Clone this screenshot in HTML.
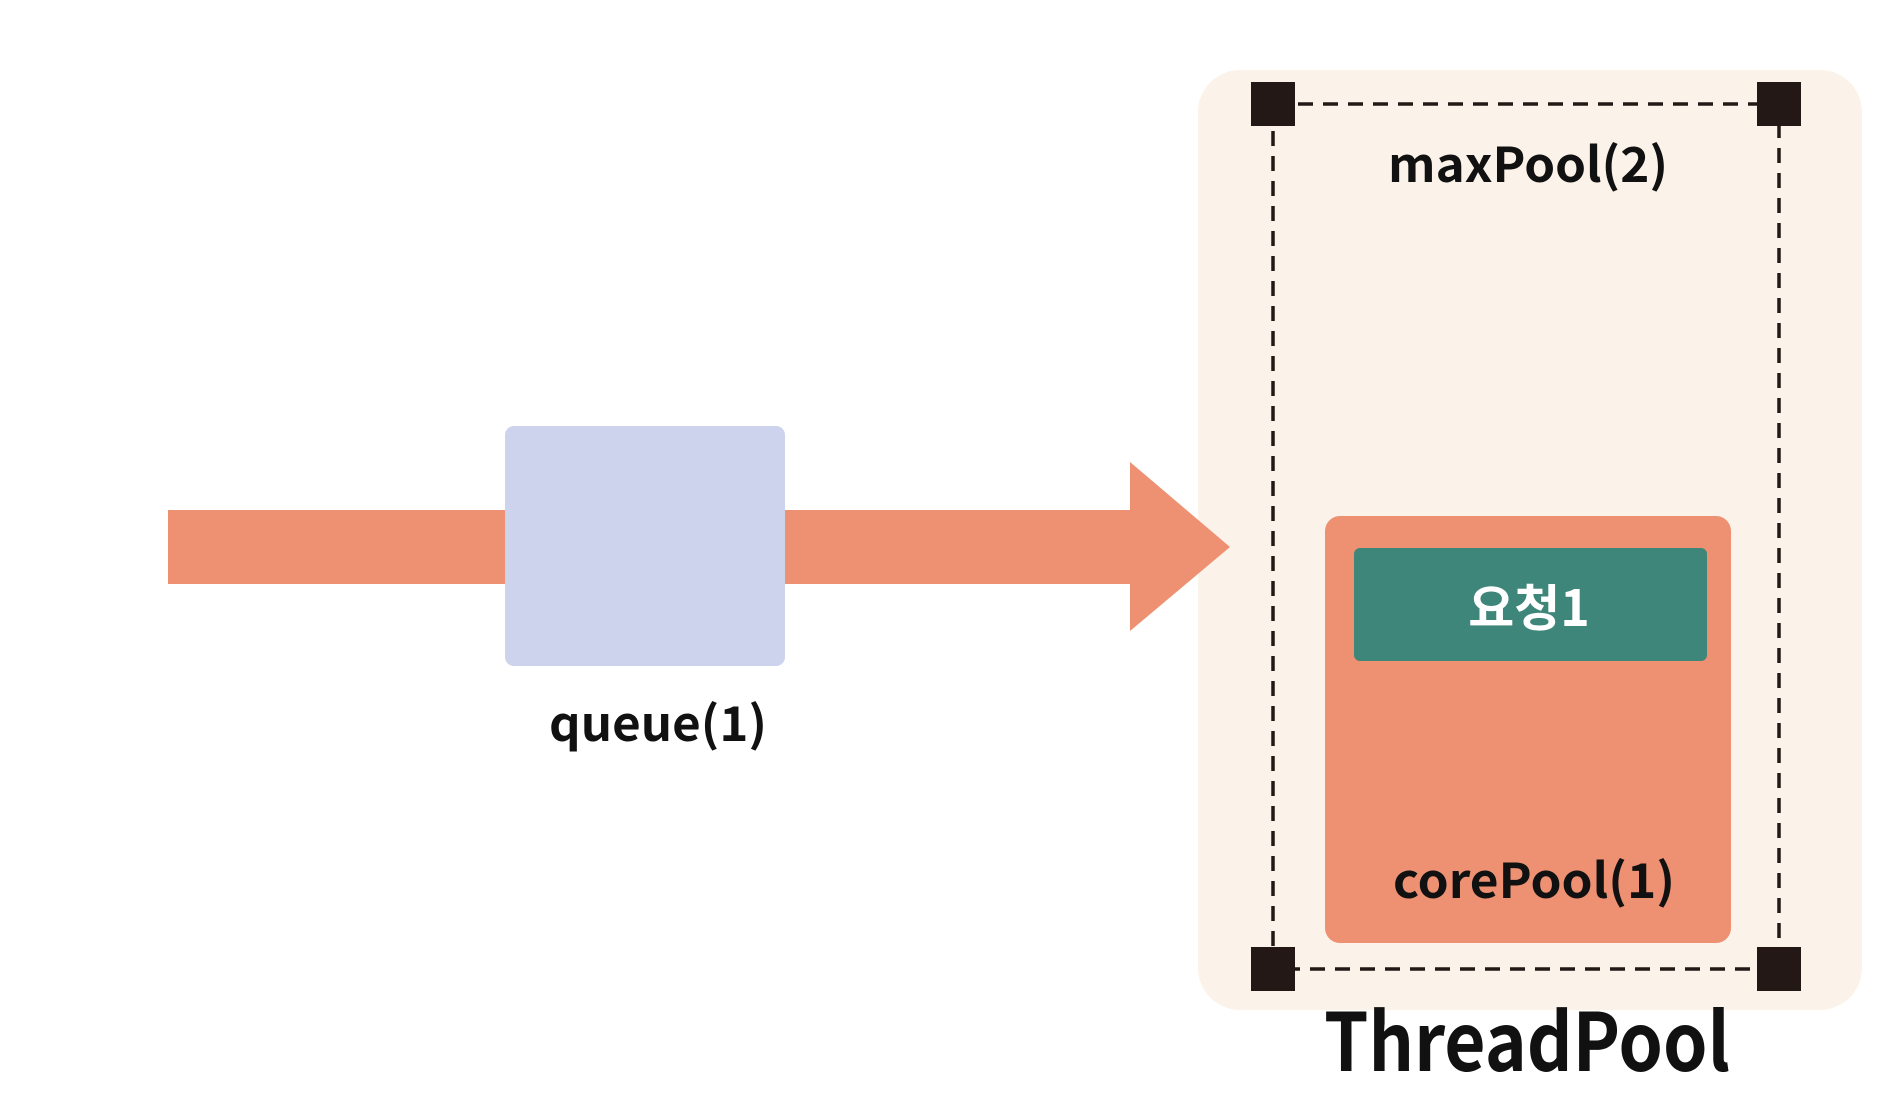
<!DOCTYPE html>
<html><head><meta charset="utf-8"><style>html,body{margin:0;padding:0;background:#fff}svg{display:block}</style></head>
<body>
<svg width="1890" height="1098" viewBox="0 0 1890 1098" xmlns="http://www.w3.org/2000/svg" font-family="'Noto Sans CJK KR','Liberation Sans',sans-serif" font-weight="bold">
<rect x="1198" y="70" width="664" height="940" rx="42" fill="#FBF3E9"/>
<rect x="168" y="510" width="966" height="74" fill="#EE9072"/>
<polygon points="1130,462 1230,547 1130,631" fill="#EE9072"/>
<rect x="505" y="426" width="280" height="240" rx="9" fill="#CDD3EC"/>
<text x="658" y="741" font-size="48" text-anchor="middle" textLength="218" lengthAdjust="spacingAndGlyphs" fill="#111">queue(1)</text>
<rect x="1273" y="104" width="506" height="865" fill="none" stroke="#231815" stroke-width="3.5" stroke-dasharray="15,10"/>
<rect x="1251" y="82" width="44" height="44" fill="#231815"/>
<rect x="1757" y="82" width="44" height="44" fill="#231815"/>
<rect x="1251" y="947" width="44" height="44" fill="#231815"/>
<rect x="1757" y="947" width="44" height="44" fill="#231815"/>
<text x="1528" y="182" font-size="48" text-anchor="middle" textLength="280" lengthAdjust="spacingAndGlyphs" fill="#111">maxPool(2)</text>
<rect x="1325" y="516" width="406" height="427" rx="15" fill="#EE9072"/>
<rect x="1354" y="548" width="353" height="113" rx="6" fill="#3E8679"/>
<text x="1529" y="626" font-size="50" text-anchor="middle" fill="#fff">요청1</text>
<text x="1534" y="898" font-size="48" text-anchor="middle" textLength="282" lengthAdjust="spacingAndGlyphs" fill="#111">corePool(1)</text>
<text x="1527" y="1071" font-size="80" text-anchor="middle" textLength="406" lengthAdjust="spacingAndGlyphs" fill="#111">ThreadPool</text>
</svg>
</body></html>
